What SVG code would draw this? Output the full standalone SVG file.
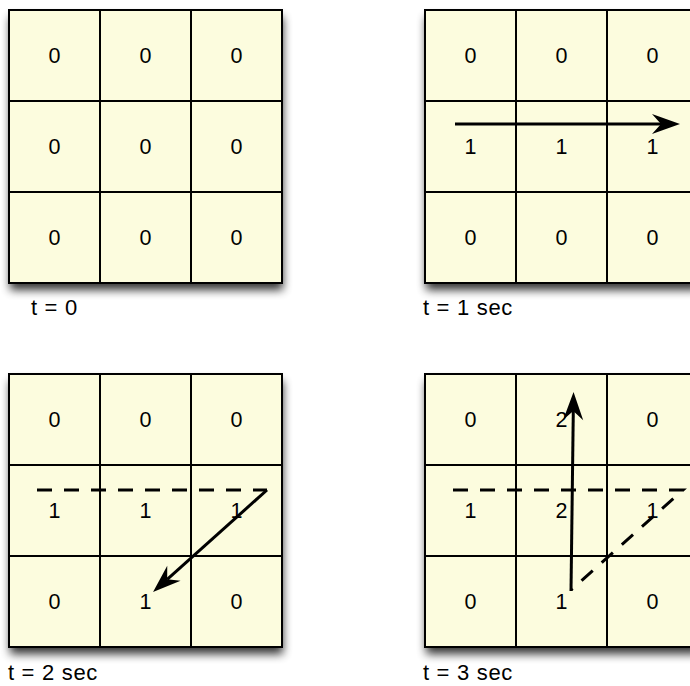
<svg xmlns="http://www.w3.org/2000/svg" width="690" height="686" viewBox="0 0 690 686">
<defs>
<filter id="shadow" x="-10%" y="-10%" width="125%" height="125%">
<feGaussianBlur in="SourceAlpha" stdDeviation="5"/>
<feOffset dx="1" dy="7" result="b"/>
<feComponentTransfer><feFuncA type="linear" slope="0.8"/></feComponentTransfer>
<feMerge><feMergeNode/><feMergeNode in="SourceGraphic"/></feMerge>
</filter>
<marker id="arrow" viewBox="-29 -11 31 22" refX="-19" refY="0" markerWidth="31" markerHeight="22" markerUnits="userSpaceOnUse" orient="auto">
<path d="M0,0 L-28,-10 L-19,0 L-28,10 Z" fill="#000"/>
</marker>
</defs>
<style>
.bg{fill:#FCFCDE;filter:url(#shadow)}
.grid{fill:none;stroke:#000;stroke-width:2}
.num{font-family:"Liberation Sans",Arial,sans-serif;font-size:21.5px;fill:#000;text-anchor:middle}
.lbl{font-family:"Liberation Sans",Arial,sans-serif;font-size:22px;letter-spacing:0.7px;fill:#000}
.solid{fill:none;stroke:#000;stroke-width:3}
.dash{fill:none;stroke:#000;stroke-width:3;stroke-dasharray:15 12}
</style>
<g id="grid-t0">
<rect class="bg" x="9" y="10" width="273" height="273"/>
<path class="grid" d="M9,10H282V283H9Z M100,10V283 M191,10V283 M9,101H282 M9,192H282"/>
<text class="num" x="54.5" y="63">0</text><text class="num" x="145.5" y="63">0</text><text class="num" x="236.5" y="63">0</text>
<text class="num" x="54.5" y="154">0</text><text class="num" x="145.5" y="154">0</text><text class="num" x="236.5" y="154">0</text>
<text class="num" x="54.5" y="245">0</text><text class="num" x="145.5" y="245">0</text><text class="num" x="236.5" y="245">0</text>
<text class="lbl" x="31" y="315">t = 0</text>
</g>
<g id="grid-t1">
<rect class="bg" x="425" y="10" width="273" height="273"/>
<path class="grid" d="M425,10H698V283H425Z M516,10V283 M607,10V283 M425,101H698 M425,192H698"/>
<text class="num" x="470.5" y="63">0</text><text class="num" x="561.5" y="63">0</text><text class="num" x="652.5" y="63">0</text>
<text class="num" x="470.5" y="154">1</text><text class="num" x="561.5" y="154">1</text><text class="num" x="652.5" y="154">1</text>
<text class="num" x="470.5" y="245">0</text><text class="num" x="561.5" y="245">0</text><text class="num" x="652.5" y="245">0</text>
<text class="lbl" x="423" y="315">t = 1 sec</text>
</g>
<g id="grid-t2">
<rect class="bg" x="9" y="374" width="273" height="273"/>
<path class="grid" d="M9,374H282V647H9Z M100,374V647 M191,374V647 M9,465H282 M9,556H282"/>
<text class="num" x="54.5" y="427">0</text><text class="num" x="145.5" y="427">0</text><text class="num" x="236.5" y="427">0</text>
<text class="num" x="54.5" y="518">1</text><text class="num" x="145.5" y="518">1</text><text class="num" x="236.5" y="518">1</text>
<text class="num" x="54.5" y="609">0</text><text class="num" x="145.5" y="609">1</text><text class="num" x="236.5" y="609">0</text>
<text class="lbl" x="8" y="680">t = 2 sec</text>
</g>
<g id="grid-t3">
<rect class="bg" x="425" y="374" width="273" height="273"/>
<path class="grid" d="M425,374H698V647H425Z M516,374V647 M607,374V647 M425,465H698 M425,556H698"/>
<text class="num" x="470.5" y="427">0</text><text class="num" x="561.5" y="427">2</text><text class="num" x="652.5" y="427">0</text>
<text class="num" x="470.5" y="518">1</text><text class="num" x="561.5" y="518">2</text><text class="num" x="652.5" y="518">1</text>
<text class="num" x="470.5" y="609">0</text><text class="num" x="561.5" y="609">1</text><text class="num" x="652.5" y="609">0</text>
<text class="lbl" x="423" y="680">t = 3 sec</text>
</g>
<g id="connectors">
<path class="solid" d="M455,124H661" marker-end="url(#arrow)"/>
<path class="dash" d="M37,490H267"/>
<path class="solid" d="M267,490L167.2,579.3" marker-end="url(#arrow)"/>
<path class="dash" d="M453,490H683L571,590"/>
<path class="solid" d="M571,591L573.3,411" marker-end="url(#arrow)"/>
</g>
</svg>
